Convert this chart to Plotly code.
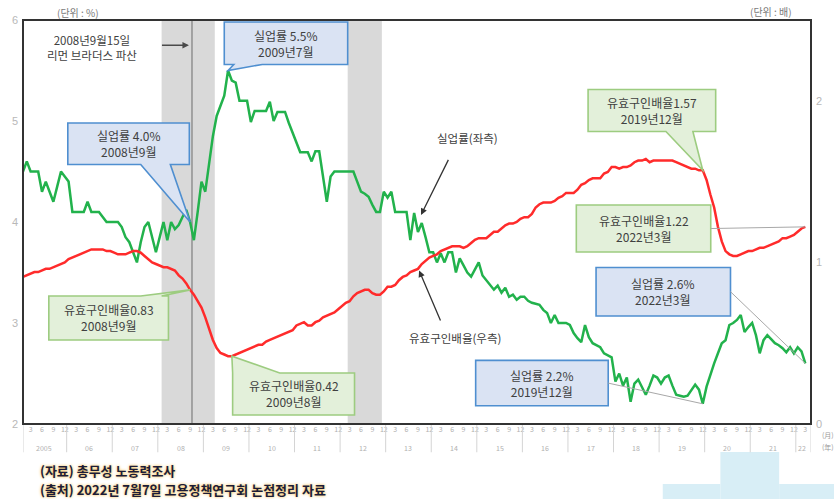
import plotly.graph_objects as go

# Monthly series, January 2005 - March 2022 (one row per year)
unemployment_rate = [
    4.5, 4.6, 4.5, 4.5, 4.5, 4.3, 4.4, 4.3, 4.2, 4.35, 4.5, 4.45,      # 2005
    4.4, 4.1, 4.1, 4.1, 4.1, 4.2, 4.1, 4.1, 4.1, 4.05, 4.0, 4.0,       # 2006
    4.0, 4.0, 3.95, 3.85, 3.8, 3.7, 3.6, 3.8, 3.95, 4.0, 3.85, 3.7,    # 2007
    3.85, 4.0, 3.82, 4.0, 3.93, 3.97, 4.05, 4.12, 4.0, 3.82, 4.1, 4.4, # 2008
    4.3, 4.6, 4.85, 5.05, 5.15, 5.25, 5.5, 5.4, 5.38, 5.2, 5.2, 5.2,   # 2009
    4.99, 5.1, 5.1, 5.1, 5.1, 5.19, 5.0, 5.09, 5.09, 5.09, 4.98, 4.88, # 2010
    4.78, 4.69, 4.69, 4.69, 4.6, 4.7, 4.7, 4.45, 4.2, 4.45, 4.5, 4.5,  # 2011
    4.5, 4.5, 4.5, 4.5, 4.4, 4.3, 4.28, 4.25, 4.17, 4.1, 4.1, 4.3,     # 2012
    4.24, 4.3, 4.1, 4.1, 4.1, 4.1, 3.82, 4.09, 3.9, 3.99, 3.85, 3.7,   # 2013
    3.7, 3.6, 3.69, 3.6, 3.7, 3.7, 3.5, 3.64, 3.57, 3.5, 3.46, 3.53,   # 2014
    3.6, 3.47, 3.42, 3.37, 3.33, 3.37, 3.3, 3.35, 3.26, 3.28, 3.23, 3.26,  # 2015
    3.26, 3.22, 3.2, 3.19, 3.18, 3.13, 3.1, 3.0, 3.08, 3.0, 3.0, 3.0,  # 2016
    2.98, 2.9, 2.85, 2.81, 2.98, 2.86, 2.8, 2.78, 2.76, 2.7, 2.68, 2.66,   # 2017
    2.42, 2.5, 2.38, 2.46, 2.22, 2.4, 2.44, 2.36, 2.29, 2.38, 2.48, 2.46,  # 2018
    2.4, 2.46, 2.48, 2.38, 2.29, 2.28, 2.27, 2.28, 2.33, 2.39, 2.34, 2.2,  # 2019
    2.37, 2.49, 2.6, 2.7, 2.8, 2.83, 2.98, 3.0, 3.03, 3.08, 2.91, 2.96,    # 2020
    3.0, 2.88, 2.7, 2.83, 2.88, 2.84, 2.8, 2.78, 2.75, 2.71, 2.76, 2.7,    # 2021
    2.76, 2.72, 2.6,                                                       # 2022
]

job_offer_ratio = [
    0.91, 0.92, 0.93, 0.94, 0.94, 0.95, 0.96, 0.96, 0.97, 0.98, 0.99, 1.00,  # 2005
    1.02, 1.03, 1.04, 1.05, 1.06, 1.07, 1.08, 1.08, 1.08, 1.08, 1.07, 1.07,  # 2006
    1.06, 1.05, 1.05, 1.05, 1.06, 1.07, 1.07, 1.06, 1.04, 1.02, 1.00, 0.99,  # 2007
    0.98, 0.97, 0.97, 0.96, 0.95, 0.92, 0.90, 0.87, 0.83, 0.80, 0.76, 0.72,  # 2008
    0.66, 0.59, 0.52, 0.47, 0.44, 0.43, 0.42, 0.42, 0.43, 0.44, 0.45, 0.46,  # 2009
    0.47, 0.48, 0.49, 0.49, 0.51, 0.52, 0.53, 0.54, 0.55, 0.56, 0.57, 0.58,  # 2010
    0.61, 0.62, 0.63, 0.61, 0.61, 0.63, 0.64, 0.66, 0.67, 0.68, 0.69, 0.71,  # 2011
    0.73, 0.75, 0.76, 0.79, 0.81, 0.82, 0.83, 0.83, 0.81, 0.80, 0.80, 0.82,  # 2012
    0.85, 0.85, 0.86, 0.89, 0.91, 0.92, 0.94, 0.95, 0.96, 0.99, 1.01, 1.03,  # 2013
    1.04, 1.05, 1.07, 1.08, 1.09, 1.10, 1.10, 1.10, 1.09, 1.10, 1.12, 1.14,  # 2014
    1.15, 1.15, 1.15, 1.17, 1.19, 1.19, 1.21, 1.23, 1.24, 1.24, 1.25, 1.27,  # 2015
    1.28, 1.28, 1.30, 1.34, 1.36, 1.37, 1.37, 1.37, 1.38, 1.40, 1.41, 1.43,  # 2016
    1.43, 1.43, 1.45, 1.48, 1.49, 1.51, 1.52, 1.52, 1.52, 1.55, 1.56, 1.59,  # 2017
    1.59, 1.58, 1.59, 1.59, 1.60, 1.62, 1.63, 1.63, 1.64, 1.62, 1.63, 1.63,  # 2018
    1.63, 1.63, 1.63, 1.63, 1.62, 1.61, 1.60, 1.59, 1.58, 1.58, 1.57, 1.57,  # 2019
    1.51, 1.42, 1.34, 1.22, 1.13, 1.07, 1.05, 1.04, 1.04, 1.05, 1.06, 1.07,  # 2020
    1.07, 1.08, 1.09, 1.09, 1.10, 1.11, 1.12, 1.13, 1.15, 1.15, 1.16, 1.17,  # 2021
    1.19, 1.21, 1.22,                                                        # 2022
]

START_YEAR = 2005
months = [(START_YEAR + i // 12, i % 12 + 1) for i in range(len(unemployment_rate))]
idx = list(range(len(months)))


def month_index(year, month):
    return months.index((year, month))


# Recession periods (shaded) and the Lehman collapse month
recessions = [((2008, 2), (2009, 3)), ((2012, 3), (2012, 11))]
lehman_month = (2008, 9)

tick_months = [3, 6, 9, 12]
tick_vals = [i for i, (y, m) in enumerate(months) if m in tick_months]
tick_text = [str(months[i][1]) for i in tick_vals]
years = sorted(set(y for y, _ in months))

KR = "Noto Sans CJK KR"
TEXT = "#404040"
BLUE_FILL, BLUE_LINE = "#dae3f3", "#4f8fd0"
GREEN_FILL, GREEN_LINE = "#e3f0da", "#9dcc80"
X_MAX = 207.5

fig = go.Figure()
fig.add_trace(go.Scatter(x=idx, y=job_offer_ratio, yaxis="y2", mode="lines",
                         line=dict(color="#ff2b2b", width=2.5), hoverinfo="skip"))
fig.add_trace(go.Scatter(x=idx, y=unemployment_rate, mode="lines",
                         line=dict(color="#22b24c", width=2.5), hoverinfo="skip"))

shapes = []
annotations = []

# shaded recessions
for (s, e) in recessions:
    shapes.append(dict(type="rect", xref="x", yref="paper",
                       x0=month_index(*s) - 0.5, x1=month_index(*e) + 0.5, y0=0, y1=1,
                       fillcolor="#d9d9d9", line=dict(width=0), layer="below"))
lehman_x = month_index(*lehman_month) + 0.5
shapes.append(dict(type="line", xref="x", yref="paper", x0=lehman_x, x1=lehman_x,
                   y0=0, y1=1, line=dict(color="#9c9c9c", width=1.8), layer="below"))

# year separators and year labels under the month ticks
for b in [0] + [month_index(y, 12) + 0.5 for y in years[:-1]] + [X_MAX]:
    shapes.append(dict(type="line", xref="x", yref="paper", x0=b, x1=b, y0=0, y1=-0.07,
                       line=dict(color="#d4d4d4", width=1)))
for y in years:
    ii = [i for i, (yy, _) in enumerate(months) if yy == y]
    label = str(y) if y == START_YEAR else f"{y % 100:02d}"
    annotations.append(dict(x=sum(ii) / len(ii), y=-0.059, xref="x", yref="paper",
                            text=label, showarrow=False, yanchor="middle",
                            font=dict(size=7, color="#b0b0b0")))


def callout(series, month, box, wedge=None, side="bottom", fill=BLUE_FILL, edge=BLUE_LINE, text=""):
    """Speech-bubble label. box = (x0, x1, y0, y1) in axis units; the pointer
    ends on the data point of the given month."""
    yref = "y" if series is unemployment_rate else "y2"
    i = month_index(*month)
    tx, ty = i, series[i]
    x0, x1, y0, y1 = box
    if wedge is None:
        # plain box joined to the point by a thin grey line
        shapes.append(dict(type="rect", xref="x", yref=yref, x0=x0, x1=x1, y0=y0, y1=y1,
                           fillcolor=fill, line=dict(color=edge, width=1.6), layer="above"))
        sx = x1 if tx > x1 else x0
        sy = y0 + (y1 - y0) * 0.5
        shapes.append(dict(type="line", xref="x", yref=yref, x0=sx, y0=sy, x1=tx, y1=ty,
                           line=dict(color="#a8a8a8", width=1), layer="above"))
    else:
        w0, w1 = wedge
        if side == "bottom":
            path = (f"M {x0},{y1} L {x1},{y1} L {x1},{y0} L {w1},{y0} "
                    f"L {tx},{ty} L {w0},{y0} L {x0},{y0} Z")
        else:
            path = (f"M {x0},{y0} L {x1},{y0} L {x1},{y1} L {w1},{y1} "
                    f"L {tx},{ty} L {w0},{y1} L {x0},{y1} Z")
        shapes.append(dict(type="path", xref="x", yref=yref, path=path,
                           fillcolor=fill, line=dict(color=edge, width=1.6), layer="above"))
    annotations.append(dict(x=(x0 + x1) / 2, y=(y0 + y1) / 2, xref="x", yref=yref,
                            text=text, showarrow=False, align="center",
                            font=dict(family=KR, size=12, color=TEXT)))


callout(unemployment_rate, (2009, 7), (53, 85.5, 5.56, 5.98), wedge=(55.5, 63),
        text="실업률 5.5%<br>2009년7월")
callout(unemployment_rate, (2008, 9), (11.8, 43.8, 4.57, 4.98), wedge=(31, 38.8),
        text="실업률 4.0%<br>2008년9월")
callout(job_offer_ratio, (2019, 12), (148.8, 182.4, 1.81, 2.07), wedge=(169.3, 176.4),
        fill=GREEN_FILL, edge=GREEN_LINE, text="유효구인배율1.57<br>2019년12월")
callout(job_offer_ratio, (2022, 3), (145.7, 181.1, 1.064, 1.355),
        fill=GREEN_FILL, edge=GREEN_LINE, text="유효구인배율1.22<br>2022년3월")
callout(unemployment_rate, (2022, 3), (150.9, 186.3, 3.07, 3.55),
        text="실업률 2.6%<br>2022년3월")
callout(job_offer_ratio, (2008, 9), (6.8, 38.3, 0.52, 0.792), wedge=(31, 36.5), side="top",
        fill=GREEN_FILL, edge=GREEN_LINE, text="유효구인배율0.83<br>2008년9월")
callout(job_offer_ratio, (2009, 8), (55.2, 87.3, 0.056, 0.316), wedge=(55.2, 67.6), side="top",
        fill=GREEN_FILL, edge=GREEN_LINE, text="유효구인배율0.42<br>2009년8월")
callout(unemployment_rate, (2019, 12), (119.2, 154.1, 2.18, 2.63),
        text="실업률 2.2%<br>2019년12월")

# text notes with arrows
annotations += [
    dict(x=18.1, y=5.73, xref="x", yref="y", showarrow=False,
         text="2008년9월15일<br>리먼 브라더스 파산", font=dict(family=KR, size=11.5, color=TEXT)),
    dict(x=lehman_x - 0.8, y=5.75, ax=36.2, ay=5.75, xref="x", yref="y", axref="x", ayref="y",
         text="", showarrow=True, arrowhead=2, arrowsize=1, arrowwidth=1.3, arrowcolor="#4a4a4a"),
    dict(x=117.1, y=4.83, xref="x", yref="y", showarrow=False,
         text="실업률(좌측)", font=dict(family=KR, size=11.5, color=TEXT)),
    dict(x=104.8, y=4.07, ax=112.2, ay=4.63, xref="x", yref="y", axref="x", ayref="y",
         text="", showarrow=True, arrowhead=2, arrowsize=1, arrowwidth=1.3, arrowcolor="#333333"),
    dict(x=113.7, y=2.85, xref="x", yref="y", showarrow=False,
         text="유효구인배율(우측)", font=dict(family=KR, size=11.5, color=TEXT)),
    dict(x=104.3, y=3.52, ax=110.1, ay=3.01, xref="x", yref="y", axref="x", ayref="y",
         text="", showarrow=True, arrowhead=2, arrowsize=1, arrowwidth=1.3, arrowcolor="#333333"),
]

# unit labels
annotations += [
    dict(x=0.0404, y=1.018, xref="paper", yref="paper", text="(단위 : %)", showarrow=False,
         yanchor="middle", font=dict(family=KR, size=10, color="#7a7a7a")),
    dict(x=0.9785, y=1.02, xref="paper", yref="paper", text="(단위 : 배)", showarrow=False,
         yanchor="middle", font=dict(family=KR, size=10, color="#7a7a7a")),
    dict(x=1.012, y=-0.027, xref="paper", yref="paper", text="(月)", showarrow=False,
         xanchor="left", yanchor="middle", font=dict(family=KR, size=7, color="#9a9a9a")),
    dict(x=1.012, y=-0.056, xref="paper", yref="paper", text="(年)", showarrow=False,
         xanchor="left", yanchor="middle", font=dict(family=KR, size=7, color="#9a9a9a")),
]

# source lines
for yy, txt in [(-0.1163, "(자료) 총무성 노동력조사"),
                (-0.1609, "(출처) 2022년 7월7일 고용정책연구회 논점정리 자료")]:
    annotations.append(dict(x=0.019, y=yy, xref="paper", yref="paper", xanchor="left",
                            yanchor="middle", showarrow=False, text=f"<b>{txt}</b>",
                            font=dict(family=KR, size=13, color="#1c1c38",
                                      shadow="0px 0px 3px #f2b230")))

# light-blue tiles in the lower right corner
for (a, b, c, d) in [(0.885, 0.9596, -0.0693, -0.19), (0.8119, 0.885, -0.1485, -0.19),
                     (0.9596, 1.03, -0.1485, -0.19)]:
    shapes.append(dict(type="rect", xref="paper", yref="paper", x0=a, x1=b, y0=c, y1=d,
                       fillcolor="#d8eef6", line=dict(width=0), layer="below"))

# frame around the plotting area
shapes.append(dict(type="rect", xref="paper", yref="paper", x0=0, x1=1, y0=0, y1=1,
                   line=dict(color="#333333", width=2), layer="above"))

fig.update_layout(
    width=834, height=499,
    margin=dict(l=22, r=20, t=20, b=75),
    paper_bgcolor="white", plot_bgcolor="white",
    showlegend=False,
    font=dict(family=KR, color=TEXT),
    xaxis=dict(range=[0, X_MAX], tickvals=tick_vals, ticktext=tick_text,
               tickfont=dict(size=7, color="#b0b0b0"), showgrid=False, zeroline=False,
               ticks="", showline=False),
    yaxis=dict(range=[2, 6], tickvals=[2, 3, 4, 5, 6], showgrid=False, zeroline=False,
               tickfont=dict(family="Liberation Sans", size=11, color="#b8b8b8"),
               ticklabelstandoff=4),
    yaxis2=dict(range=[0, 2.5], tickvals=[0, 1, 2], overlaying="y", side="right",
                showgrid=False, zeroline=False,
                tickfont=dict(family="Liberation Sans", size=11, color="#b8b8b8"),
                ticklabelstandoff=4),
    shapes=shapes,
    annotations=annotations,
)

fig.write_html("out.html")
